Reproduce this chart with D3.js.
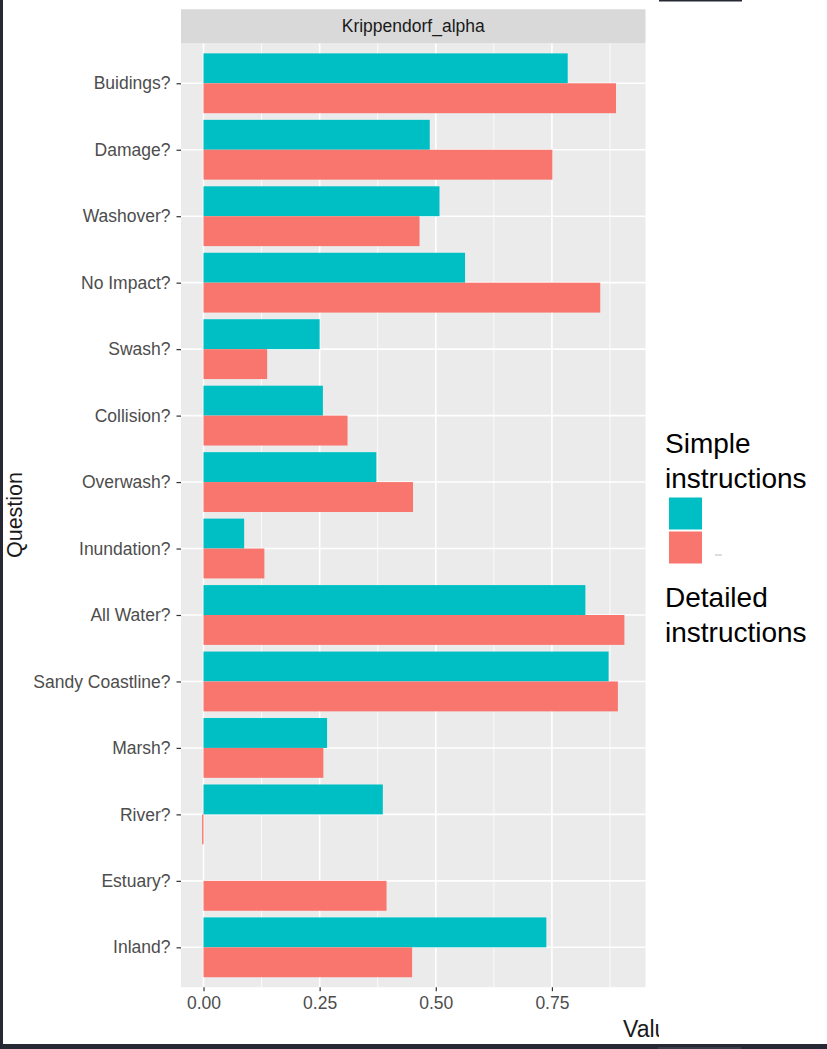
<!DOCTYPE html>
<html>
<head>
<meta charset="utf-8">
<script src="https://cdn.jsdelivr.net/npm/d3@7"></script>
<style>
  html, body { margin: 0; padding: 0; background: #fff; }
  svg { display: block; }
  text { font-family: "Liberation Sans", Arial, sans-serif; }
</style>
</head>
<body>
<svg id="chart" width="827" height="1049"></svg>
<script>
// Agreement (Krippendorff's alpha) per question, for two instruction sets
const questions = ["Buidings?", "Damage?", "Washover?", "No Impact?", "Swash?", "Collision?",
  "Overwash?", "Inundation?", "All Water?", "Sandy Coastline?", "Marsh?", "River?", "Estuary?", "Inland?"];
const simpleValues   = [0.784, 0.487, 0.508, 0.563, 0.250, 0.257, 0.372, 0.0875, 0.822, 0.872, 0.266, 0.386, null, 0.738];
const detailedValues = [0.888, 0.751, 0.465, 0.854, 0.137, 0.310, 0.451, 0.131, 0.906, 0.892, 0.258, -0.003, 0.394, 0.449];
const seriesNames = ["Simple instructions", "Detailed instructions"];
const seriesColors = ["#00BFC4", "#F8766D"];
const xTicks = [0, 0.25, 0.5, 0.75];
const xMinorTicks = [0.125, 0.375, 0.625, 0.875];
const facetLabel = "Krippendorf_alpha";
const xTitle = "Value";
const yTitle = "Question";

const svg = d3.select("#chart");
const W = 827, H = 1049;

// panel geometry
const panel = { left: 181, right: 645.5, top: 43.4, bottom: 987.2 };
const strip = { top: 9.3, bottom: 43.4 };

// continuous axis with 5% expansion each side (ggplot default)
const allVals = simpleValues.concat(detailedValues).filter(v => v != null);
const vMin = Math.min(0, d3.min(allVals)), vMax = d3.max(allVals);
const pad = (vMax - vMin) * 0.05;
const x = d3.scaleLinear().domain([vMin - pad, vMax + pad]).range([panel.left, panel.right]);

// discrete axis with 0.6 unit expansion each side
const y = d3.scalePoint().domain(questions).range([panel.top, panel.bottom]).padding(0.6);
const step = y.step();
const dodge = d3.scaleBand().domain(seriesNames).range([-0.45 * step, 0.45 * step]).padding(0);

// frame decorations
svg.append("rect").attr("x", 0).attr("y", 0).attr("width", 3).attr("height", H).attr("fill", "#262833");
svg.append("rect").attr("x", 0).attr("y", 1044).attr("width", W).attr("height", 5).attr("fill", "#262833");
svg.append("rect").attr("x", 658).attr("y", 1047).attr("width", 83).attr("height", 2).attr("fill", "#3a3c48");
svg.append("rect").attr("x", 659).attr("y", 0).attr("width", 83).attr("height", 1.5).attr("fill", "#262833");

// panel background
svg.append("rect")
  .attr("x", panel.left).attr("y", panel.top)
  .attr("width", panel.right - panel.left).attr("height", panel.bottom - panel.top)
  .attr("fill", "#EBEBEB");

// strip
svg.append("rect")
  .attr("x", panel.left).attr("y", strip.top)
  .attr("width", panel.right - panel.left).attr("height", strip.bottom - strip.top)
  .attr("fill", "#D9D9D9");
svg.append("text")
  .attr("x", (panel.left + panel.right) / 2).attr("y", (strip.top + strip.bottom) / 2 + 6)
  .attr("text-anchor", "middle").attr("font-size", 17.5).attr("fill", "#1A1A1A")
  .text(facetLabel);

// grid lines
const grid = svg.append("g");
grid.selectAll("line.minor").data(xMinorTicks).join("line")
  .attr("x1", d => x(d)).attr("x2", d => x(d))
  .attr("y1", panel.top).attr("y2", panel.bottom)
  .attr("stroke", "#fff").attr("stroke-width", 0.8);
grid.selectAll("line.majx").data(xTicks).join("line")
  .attr("x1", d => x(d)).attr("x2", d => x(d))
  .attr("y1", panel.top).attr("y2", panel.bottom)
  .attr("stroke", "#fff").attr("stroke-width", 1.6);
grid.selectAll("line.majy").data(questions).join("line")
  .attr("x1", panel.left).attr("x2", panel.right)
  .attr("y1", d => y(d)).attr("y2", d => y(d))
  .attr("stroke", "#fff").attr("stroke-width", 1.6);

// bars
const rows = questions.map((q, i) => ({ q, vals: [simpleValues[i], detailedValues[i]] }));
const groups = svg.append("g").selectAll("g").data(rows).join("g")
  .attr("transform", d => `translate(0,${y(d.q)})`);
groups.selectAll("rect")
  .data(d => d.vals.map((v, j) => ({ v, s: seriesNames[j], c: seriesColors[j] })).filter(e => e.v != null))
  .join("rect")
  .attr("x", e => Math.min(x(0), x(e.v)))
  .attr("width", e => Math.abs(x(e.v) - x(0)))
  .attr("y", e => dodge(e.s))
  .attr("height", dodge.bandwidth())
  .attr("fill", e => e.c);

// x axis
const xAxis = svg.append("g")
  .attr("transform", `translate(0,${panel.bottom})`)
  .call(d3.axisBottom(x).tickValues(xTicks).tickFormat(d3.format(".2f")).tickSize(4).tickPadding(5));
xAxis.select(".domain").remove();
xAxis.selectAll(".tick line").attr("stroke", "#333").attr("stroke-width", 1.2);
xAxis.selectAll(".tick text").attr("font-size", 17.5).attr("fill", "#4D4D4D")
  .attr("font-family", "Liberation Sans, Arial, sans-serif");

// y axis
const yAxis = svg.append("g")
  .attr("transform", `translate(${panel.left},0)`)
  .call(d3.axisLeft(y).tickSize(4.5).tickPadding(6));
yAxis.select(".domain").remove();
yAxis.selectAll(".tick line").attr("stroke", "#333").attr("stroke-width", 1.2);
yAxis.selectAll(".tick text").attr("font-size", 17.5).attr("fill", "#4D4D4D")
  .attr("font-family", "Liberation Sans, Arial, sans-serif");

// axis titles (x title partly hidden behind the legend box)
svg.append("defs").append("clipPath").attr("id", "titleClip")
  .append("rect").attr("x", 0).attr("y", 0).attr("width", 659).attr("height", H);
svg.append("text")
  .attr("x", 623).attr("y", 1037)
  .attr("font-size", 23).attr("fill", "#1a1a1a")
  .attr("clip-path", "url(#titleClip)")
  .text(xTitle);
svg.append("text")
  .attr("transform", "translate(22,515) rotate(-90)")
  .attr("text-anchor", "middle").attr("font-size", 21.5).attr("fill", "#1a1a1a")
  .text(yTitle);

// legend
const legend = svg.append("g");
const legendText = [
  { lines: seriesNames[0].split(" "), y0: 453 },
  { lines: seriesNames[1].split(" "), y0: 607 }
];
legendText.forEach(t => {
  const tx = legend.append("text").attr("x", 665).attr("y", t.y0)
    .attr("font-size", 28).attr("fill", "#000");
  t.lines.forEach((ln, k) => {
    tx.append("tspan").attr("x", 665).attr("dy", k === 0 ? 0 : 34.5).text(ln);
  });
});
legend.selectAll("rect").data(seriesColors).join("rect")
  .attr("x", 669).attr("y", (d, i) => 497.5 + i * 34)
  .attr("width", 33).attr("height", 32)
  .attr("fill", d => d);
legend.append("line").attr("x1", 715).attr("x2", 722).attr("y1", 555).attr("y2", 555)
  .attr("stroke", "#bbb").attr("stroke-width", 1);
</script>
</body>
</html>
